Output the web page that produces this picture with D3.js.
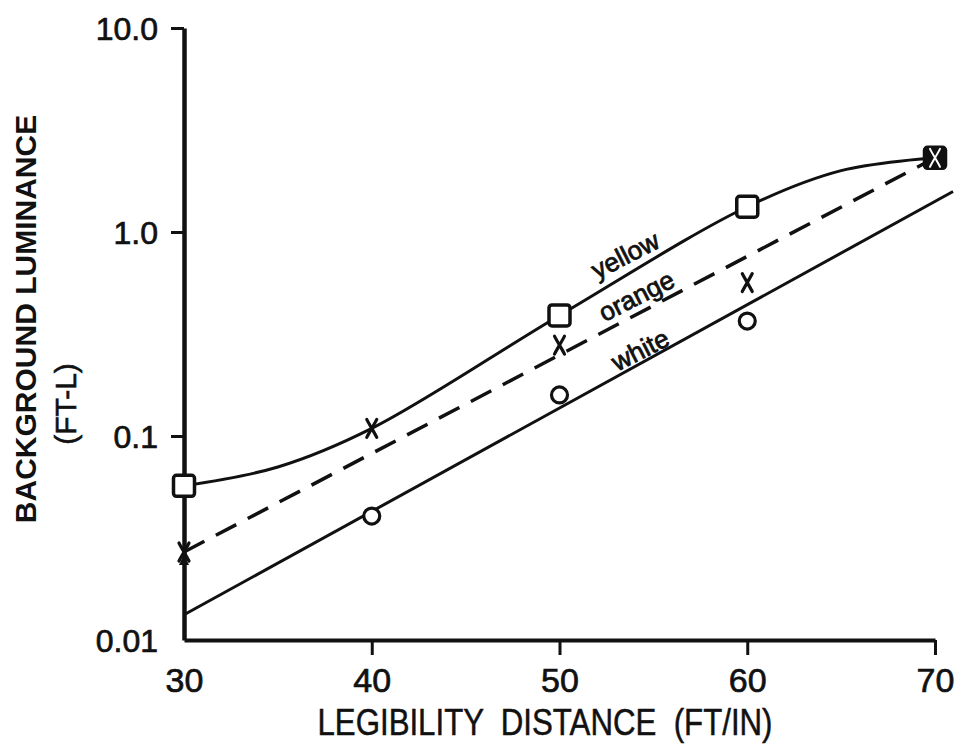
<!DOCTYPE html>
<html>
<head>
<meta charset="utf-8">
<script src="https://cdn.jsdelivr.net/npm/d3@7"></script>
<style>
  body { margin: 0; background: #fff; }
  text { font-family: "Liberation Sans", Arial, sans-serif; fill: #111; }
</style>
</head>
<body>
<script>
// data
const xTicks = [30, 40, 50, 60, 70];
const yTicks = [0.01, 0.1, 1, 10];
const yTickLabels = ["0.01", "0.1", "1.0", "10.0"];

const yellowX = [30, 50, 60, 70];
const yellowY = [0.057, 0.39, 1.33, 2.31];
const yellowCurveX = [30, 35, 40, 50, 60, 65, 70];
const yellowCurveY = [0.057, 0.0705, 0.109, 0.39, 1.33, 2.0, 2.31];

const orangeX = [30, 40, 50, 60, 70];
const orangeY = [0.027, 0.109, 0.279, 0.565, 2.31];

const whiteX = [40, 50, 60];
const whiteY = [0.0405, 0.159, 0.366];

// fitted straight lines (end points)
const orangeFitX = [30, 70];
const orangeFitY = [0.027, 2.31];
const whiteFitX = [30, 70.96];
const whiteFitY = [0.0133, 1.58];

const lineLabels = ["yellow", "orange", "white"];
const labelX = [53.5, 54.1, 54.3];
const labelY = [0.77, 0.486, 0.264];

const W = 959, H = 749;

const svg = d3.select("body")
  .append("svg")
  .attr("width", W)
  .attr("height", H);

svg.append("rect").attr("width", W).attr("height", H).attr("fill", "#fff");

const x = d3.scaleLinear()
  .domain([30, 70])
  .range([184, 935]);

const y = d3.scaleLog()
  .domain([0.01, 10])
  .range([640, 28]);

const zip = (xs, ys) => xs.map((v, i) => ({x: v, y: ys[i]}));

// X axis
const gx = svg.append("g")
  .attr("transform", `translate(0,${y(0.01)})`)
  .call(d3.axisBottom(x).tickValues(xTicks).tickSize(15).tickSizeOuter(0).tickFormat(d3.format("d")));
gx.select(".domain").attr("stroke", "#111").attr("stroke-width", 4);
gx.selectAll(".tick line").attr("stroke", "#111").attr("stroke-width", 3)
  .attr("display", d => d === 30 ? "none" : null);
gx.selectAll(".tick text")
  .attr("y", 52).attr("dy", 0)
  .style("font-size", "34px");

// Y axis
const gy = svg.append("g")
  .attr("transform", `translate(${x(30)},0)`)
  .call(d3.axisLeft(y).tickValues(yTicks).tickSize(13).tickSizeOuter(0)
    .tickFormat((d, i) => yTickLabels[i]));
gy.select(".domain").attr("stroke", "#111").attr("stroke-width", 4.5);
gy.selectAll(".tick line").attr("stroke", "#111").attr("stroke-width", 3)
  .attr("display", d => d === 0.01 ? "none" : null);
gy.selectAll(".tick text")
  .attr("x", -26).attr("dy", "0.36em")
  .style("font-size", "32px");

svg.selectAll(".domain").attr("fill", "none");
svg.selectAll(".tick text")
  .attr("fill", "#111")
  .attr("stroke", "#111")
  .attr("stroke-width", 0.7);

// axis titles
svg.append("text")
  .attr("text-anchor", "middle")
  .attr("x", 545)
  .attr("y", 735)
  .attr("textLength", 455)
  .attr("lengthAdjust", "spacingAndGlyphs")
  .attr("stroke", "#111")
  .attr("stroke-width", 0.5)
  .style("white-space", "pre")
  .style("font-size", "37px")
  .text("LEGIBILITY  DISTANCE  (FT/IN)");

svg.append("text")
  .attr("text-anchor", "middle")
  .attr("transform", "rotate(-90)")
  .attr("x", -319)
  .attr("y", 36)
  .style("font-size", "30px")
  .style("font-weight", "bold")
  .text("BACKGROUND LUMINANCE");

svg.append("text")
  .attr("text-anchor", "middle")
  .attr("transform", "rotate(-90)")
  .attr("x", -404)
  .attr("y", 76)
  .attr("stroke", "#111")
  .attr("stroke-width", 0.6)
  .style("font-size", "30px")
  .text("(FT-L)");

// lines
svg.append("path")
  .datum(zip(yellowCurveX, yellowCurveY))
  .attr("fill", "none")
  .attr("stroke", "#111")
  .attr("stroke-width", 3)
  .attr("d", d3.line().x(d => x(d.x)).y(d => y(d.y)).curve(d3.curveCatmullRom.alpha(0.5)));

svg.append("path")
  .datum(zip(orangeFitX, orangeFitY))
  .attr("fill", "none")
  .attr("stroke", "#111")
  .attr("stroke-width", 3.5)
  .attr("stroke-dasharray", "23,13")
  .attr("d", d3.line().x(d => x(d.x)).y(d => y(d.y)));

svg.append("path")
  .datum(zip(whiteFitX, whiteFitY))
  .attr("fill", "none")
  .attr("stroke", "#111")
  .attr("stroke-width", 3)
  .attr("d", d3.line().x(d => x(d.x)).y(d => y(d.y)));

// markers
svg.selectAll(".sq")
  .data(zip(yellowX, yellowY))
  .enter()
  .append("rect")
  .attr("class", "sq")
  .attr("x", d => x(d.x) - 10.5)
  .attr("y", d => y(d.y) - 10.5)
  .attr("width", 21)
  .attr("height", 21)
  .attr("rx", 3)
  .attr("fill", d => d.x === 70 ? "#111" : "#fff")
  .attr("stroke", "#111")
  .attr("stroke-width", 3.5);

svg.selectAll(".cx")
  .data(zip(orangeX, orangeY))
  .enter()
  .append("path")
  .attr("class", "cx")
  .attr("transform", d => `translate(${x(d.x)},${y(d.y)})`)
  .attr("d", "M-5,-9 C-2,-3 2,3 5,9 M5,-9 C2,-3 -2,3 -5,9")
  .attr("fill", "none")
  .attr("stroke", d => d.x === 70 ? "#fff" : "#111")
  .attr("stroke-width", d => d.x === 70 ? 2 : 3.2)
  .attr("stroke-linecap", "round");

// small arrow head under the orange mark at 30
svg.append("path")
  .datum({x: orangeX[0], y: orangeY[0]})
  .attr("transform", d => `translate(${x(d.x)},${y(d.y)})`)
  .attr("d", "M0,2 L-5,13 L5,13 Z")
  .attr("fill", "#111");

svg.selectAll(".ci")
  .data(zip(whiteX, whiteY))
  .enter()
  .append("circle")
  .attr("class", "ci")
  .attr("cx", d => x(d.x))
  .attr("cy", d => y(d.y))
  .attr("r", 8)
  .attr("fill", "#fff")
  .attr("stroke", "#111")
  .attr("stroke-width", 3.2);

// curve labels
svg.selectAll(".lab")
  .data(lineLabels)
  .enter()
  .append("text")
  .attr("class", "lab")
  .attr("text-anchor", "middle")
  .attr("dominant-baseline", "central")
  .attr("transform", (d, i) => `translate(${x(labelX[i])},${y(labelY[i])}) rotate(-27)`)
  .attr("stroke", "#111")
  .attr("stroke-width", 0.8)
  .style("font-size", "26px")
  .text(d => d);
</script>
</body>
</html>
